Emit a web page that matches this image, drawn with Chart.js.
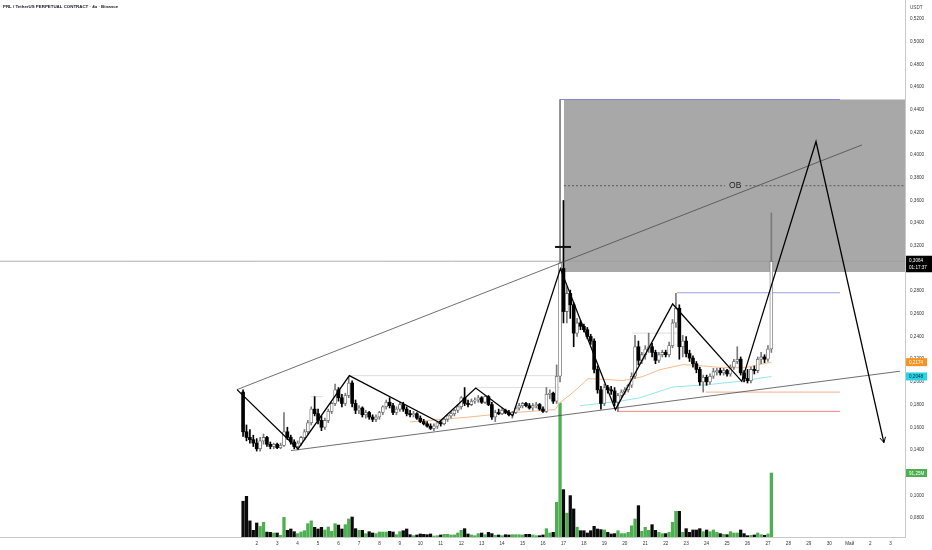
<!DOCTYPE html>
<html>
<head>
<meta charset="utf-8">
<script src="https://cdn.jsdelivr.net/npm/chart.js@4.4.1/dist/chart.umd.min.js"></script>
<style>
html,body{margin:0;padding:0;background:#fff;}
#wrap{width:932px;height:550px;position:relative;}
</style>
</head>
<body>
<div id="wrap"><canvas id="c"></canvas></div>
<script>
// ---------------- DATA ----------------
const title = 'PRL / TetherUS PERPETUAL CONTRACT · 4ч · Binance';
const quoteCurrency = 'USDT';
const firstTime = 1 + 2 / 6;   // 1 April, 08:00 (x unit = days)
const candlesPerDay = 6;       // 4h candles

const opens = [
.191,.156,.151,.149,.146,.141,.148,.151,.145,.143,
.145,.142,.144,.156,.151,.147,.143,.146,.151,.156,
.164,.176,.172,.166,.160,.166,.174,.181,.193,.186,
.181,.188,.199,.181,.175,.177,.171,.173,.169,.167,
.169,.173,.178,.182,.179,.173,.176,.180,.176,.172,
.171,.172,.168,.165,.163,.161,.159,.161,.164,.163,
.167,.170,.172,.175,.178,.186,.181,.180,.183,.184,
.186,.182,.187,.180,.169,.173,.172,.175,.173,.171,
.173,.177,.179,.181,.179,.177,.179,.180,.176,.174,
.189,.190,.183,.205,.300,.262,.278,.268,.243,.252,
.249,.246,.240,.236,.211,.193,.181,.195,.193,.192,
.182,.188,.191,.193,.197,.205,.231,.219,.224,.229,
.231,.226,.219,.224,.226,.224,.232,.252,.265,.231,
.236,.225,.221,.216,.211,.200,.204,.200,.205,.209,
.210,.208,.210,.207,.213,.218,.220,.208,.203,.201,
.211,.210,.220,.222,.220,.229];
const highs = [
.193,.162,.158,.153,.150,.151,.154,.152,.147,.146,
.146,.146,.173,.160,.153,.149,.148,.152,.158,.166,
.178,.187,.176,.170,.168,.176,.182,.198,.195,.189,
.190,.204,.201,.184,.179,.178,.175,.174,.171,.171,
.174,.179,.184,.186,.181,.178,.182,.182,.178,.175,
.174,.173,.170,.167,.165,.163,.163,.165,.166,.168,
.171,.174,.176,.180,.187,.195,.184,.185,.186,.188,
.187,.188,.188,.182,.175,.176,.177,.176,.175,.174,
.178,.181,.182,.182,.181,.181,.182,.181,.178,.195,
.193,.191,.215,.449,.360,.284,.281,.270,.256,.254,
.251,.248,.242,.238,.214,.196,.198,.197,.196,.195,
.190,.193,.195,.198,.208,.241,.236,.226,.232,.243,
.234,.228,.226,.228,.228,.235,.255,.278,.268,.241,
.240,.228,.223,.218,.213,.206,.206,.207,.212,.212,
.212,.212,.211,.215,.220,.231,.222,.210,.211,.213,
.214,.222,.226,.224,.232,.349];
const lows = [
.152,.148,.146,.143,.139,.139,.145,.143,.141,.141,
.141,.141,.143,.149,.145,.141,.140,.144,.149,.154,
.162,.170,.163,.157,.158,.164,.172,.179,.183,.178,
.179,.186,.178,.172,.172,.169,.168,.167,.165,.165,
.167,.171,.176,.177,.171,.171,.174,.174,.170,.169,
.169,.167,.164,.162,.160,.158,.157,.159,.161,.162,
.165,.168,.170,.173,.176,.179,.178,.179,.181,.182,
.181,.181,.179,.167,.165,.171,.171,.172,.170,.168,
.172,.175,.177,.178,.176,.175,.177,.175,.173,.173,
.185,.181,.181,.200,.252,.252,.256,.231,.240,.246,
.244,.238,.233,.208,.190,.176,.179,.190,.189,.179,
.174,.186,.189,.191,.195,.203,.215,.216,.220,.226,
.222,.216,.217,.222,.222,.222,.230,.248,.220,.222,
.222,.218,.213,.208,.197,.191,.197,.198,.203,.206,
.206,.206,.205,.205,.211,.216,.206,.200,.199,.199,
.207,.208,.216,.217,.218,.226];
const closes = [
.156,.151,.149,.146,.141,.148,.151,.145,.143,.145,
.142,.144,.156,.151,.147,.143,.146,.151,.156,.164,
.176,.172,.166,.160,.166,.174,.181,.193,.186,.181,
.188,.199,.181,.175,.177,.171,.173,.169,.167,.169,
.173,.178,.182,.179,.173,.176,.180,.176,.172,.171,
.172,.168,.165,.163,.161,.159,.161,.164,.163,.167,
.170,.172,.175,.178,.186,.181,.180,.183,.184,.186,
.182,.187,.180,.169,.173,.172,.175,.173,.171,.173,
.177,.179,.181,.179,.177,.179,.180,.176,.174,.189,
.190,.183,.205,.305,.262,.278,.268,.243,.252,.249,
.246,.240,.236,.211,.193,.181,.195,.193,.192,.182,
.188,.191,.193,.197,.205,.231,.219,.224,.229,.231,
.226,.219,.224,.226,.224,.232,.252,.265,.231,.236,
.225,.221,.216,.211,.200,.204,.200,.205,.209,.210,
.208,.210,.207,.213,.218,.220,.208,.203,.201,.211,
.210,.220,.222,.220,.229,.3064];
// volume, millions
const volumes = [
51,58,23,9.5,20,15,21,7,6.6,5.7,
5.7,2.4,28,9.5,11.4,7.6,4.8,7.1,9,19,
23,13.8,11.4,13.8,10,14.3,8.1,19,17,11.4,
17.6,25.7,28.5,11.9,9.5,9.5,4.8,7.6,5.7,4.8,
7.1,7.1,7.1,8.1,7.1,3.3,7.6,9,11.4,3.3,
1.9,2.9,4.3,3.8,3.3,4.3,1.4,1.9,2.9,3.8,
3.8,2.9,2.9,5.7,9.5,11.9,4.3,2.9,1.9,4.8,
5.7,3.3,6.7,4.8,2.4,2.9,1.9,3.3,2.9,3.3,
3.3,3.3,2.9,3.8,3.8,2.9,1.9,1.9,2.9,11.9,
5.7,6.7,49.5,191,67.5,34,59,40,14,9,
9,5.7,9,15.2,11.4,10.5,10,6.7,4.3,4.8,
9,4.8,4.8,6.7,16,25.7,44.7,8.1,13.8,9.5,
17.6,9.5,6.7,4.8,4.8,6.7,21,36.6,36.6,6.7,
11.9,6.7,10,10,11.9,7.6,10,7.6,10,6.7,
4.8,3.8,3.3,7.6,5.7,5.7,10,4.8,1.9,2.4,
2.9,5.7,3.3,2.4,4.3,91.25];

const priceTicks = [0.08,0.10,0.12,0.14,0.16,0.18,0.20,0.22,0.24,0.26,0.28,0.30,0.32,0.34,0.36,0.38,0.40,0.42,0.44,0.46,0.48,0.50,0.52];
const dayTicks  = [2,3,4,5,6,7,8,9,10,11,12,13,14,15,16,17,18,19,20,21,22,23,24,25,26,27,28,29,30,31,32,33];
const dayLabels = ['2','3','4','5','6','7','8','9','10','11','12','13','14','15','16','17','18','19','20','21','22','23','24','25','26','27','28','29','30','Май','2','3'];

const lastPrice = 0.3064;
const countdown = '01:17:37';
const orangeMAValue = 0.2174;
const cyanMAValue = 0.2048;
const lastVolumeLabel = '91,25M';

// indicator lines (time in days, price)
const orangeMA = [[9.50,0.1647],[12.09,0.1685],[14.53,0.1729],[16.59,0.1755],[16.83,0.1817],[17.42,0.1900],[18.20,0.2028],[19.17,0.2020],[19.90,0.2011],[20.86,0.2046],[21.72,0.2108],[22.84,0.2152],[23.68,0.2143],[24.81,0.2125],[25.86,0.2125],[27.17,0.2174]];
const cyanMA = [[17.81,0.1790],[19.77,0.1830],[20.74,0.1860],[22.35,0.1955],[24.02,0.1975],[25.63,0.2005],[27.17,0.2048]];

// drawings (time in days, price)
const zigzag = [[1.037,0.1932],[4.02,0.1409],[6.53,0.2055],[10.91,0.1644],[12.71,0.1946],[14.52,0.1702],[16.85,0.2999],[19.54,0.1755],[22.34,0.2687],[25.72,0.2005],[29.35,0.4119],[32.67,0.1465]];
const wedgeUpper = [[1.037,0.1932],[31.60,0.4090]];
const wedgeLower = [[3.677,0.1394],[33.45,0.2094]];
const obZone = {from:17.027, to:33.75, top:0.449, bottom:0.297};
const obMid = 0.373;
const obLabel = 'OB';
const obLabelTime = 25.40;
const blueTop = [[16.83,0.449],[30.52,0.449]];
const blueMid = [[22.55,0.2786],[30.52,0.2786]];
const redLow = [[19.62,0.174],[30.52,0.174]];
const orangeLow = [[23.97,0.191],[30.52,0.191]];
const blackMark = [[16.59,0.319],[17.37,0.319]];
const faintLevels = [
  [[6.51,0.2055],[16.83,0.2055]],
  [[12.72,0.195],[16.83,0.195]],
  [[4.66,0.187],[5.24,0.187]],
  [[20.35,0.243],[22.55,0.243]]
];

// ---------------- CHART ----------------
const times = opens.map((_, i) => firstTime + i / candlesPerDay);
const isUp = i => closes[i] >= opens[i];
const pts = arr => arr.map(p => ({x: p[0], y: p[1]}));
const X_MIN = -10.553, X_MAX = 33.702;
const Y_MIN = 0.0632, Y_MAX = 0.5368;

function lineDs(data, color, width, order, dash) {
  return {type:'line', data: pts(data), borderColor: color, borderWidth: width, pointRadius: 0,
    fill: false, tension: 0, order: order, borderDash: dash || [], yAxisID: 'y', xAxisID: 'x'};
}

const datasets = [];
// OB zone fill
datasets.push({type:'line', data: pts([[obZone.from, obZone.top],[obZone.to, obZone.top]]),
  fill: {value: obZone.bottom}, backgroundColor: '#a8a8a8', borderWidth: 0, pointRadius: 0,
  order: 100, yAxisID: 'y'});
// volumes
datasets.push({type:'bar', data: volumes.map((v,i)=>({x: times[i], y: v})), yAxisID: 'yv',
  backgroundColor: c => isUp(c.dataIndex) ? '#4caf50' : '#0b0b0b', barThickness: 2.6, grouped: false,
  borderWidth: 0, order: 90});
// indicators
datasets.push(lineDs(orangeMA, '#f7b27c', 0.9, 80));
datasets.push(lineDs(cyanMA, '#86e4ee', 0.9, 80));
// faint levels and ranges
faintLevels.forEach(l => datasets.push(lineDs(l, '#d4d4d4', 0.8, 75)));
datasets.push(lineDs(redLow, '#f0656a', 0.8, 74));
datasets.push(lineDs(orangeLow, '#ea9a72', 0.8, 74));
datasets.push(lineDs(blueMid, '#7d86d6', 0.8, 74));
datasets.push(lineDs(blueTop, '#7d86d6', 1, 74));
// OB dashed mid line (split round the label)
datasets.push(lineDs([[obZone.from, obMid],[24.90, obMid]], '#444', 0.8, 73, [2,2]));
datasets.push(lineDs([[25.90, obMid],[obZone.to, obMid]], '#444', 0.8, 73, [2,2]));
// last price line
datasets.push(lineDs([[X_MIN, lastPrice],[X_MAX, lastPrice]], '#9a9a9a', 0.8, 72));
// candle wicks
datasets.push({type:'bar', data: times.map((t,i)=>({x: t, y: [lows[i], highs[i]]})), yAxisID: 'y',
  backgroundColor: c => isUp(c.dataIndex) ? '#7a7a7a' : '#000', barThickness: 1, grouped: false,
  borderWidth: 0, order: 60});
// candle bodies
datasets.push({type:'bar', data: times.map((t,i)=>({x: t, y: [opens[i], closes[i]]})), yAxisID: 'y',
  backgroundColor: c => isUp(c.dataIndex) ? '#ffffff' : '#000',
  borderColor: c => isUp(c.dataIndex) ? '#6a6a6a' : '#000',
  borderWidth: c => isUp(c.dataIndex) ? 0.8 : 0, borderSkipped: false,
  barThickness: 3, grouped: false, minBarLength: 1, order: 50});
// wedge
datasets.push(lineDs(wedgeUpper, '#4a4a4a', 0.8, 40));
datasets.push(lineDs(wedgeLower, '#4a4a4a', 0.8, 40));
datasets.push(lineDs(blackMark, '#111', 2, 35));
// zigzag
datasets.push(lineDs(zigzag, '#000', 1.3, 30));

const fmt = v => v.toFixed(4).replace('.', ',');

const overlay = {
  id: 'overlay',
  afterDatasetsDraw(chart) {
    const {ctx, scales:{x, y}} = chart;
    const n = zigzag.length;
    const x1 = x.getPixelForValue(zigzag[n-2][0]), y1 = y.getPixelForValue(zigzag[n-2][1]);
    const x2 = x.getPixelForValue(zigzag[n-1][0]), y2 = y.getPixelForValue(zigzag[n-1][1]);
    const a = Math.atan2(y2 - y1, x2 - x1);
    ctx.save();
    ctx.strokeStyle = '#000'; ctx.lineWidth = 1;
    ctx.beginPath();
    ctx.moveTo(x2 - 6*Math.cos(a - 0.5), y2 - 6*Math.sin(a - 0.5));
    ctx.lineTo(x2, y2);
    ctx.lineTo(x2 - 6*Math.cos(a + 0.5), y2 - 6*Math.sin(a + 0.5));
    ctx.stroke();
    ctx.font = '8.5px "Liberation Sans", Arial, sans-serif';
    ctx.fillStyle = '#222'; ctx.textAlign = 'center'; ctx.textBaseline = 'middle';
    ctx.fillText(obLabel, x.getPixelForValue(obLabelTime), y.getPixelForValue(obMid));
    ctx.restore();
  },
  afterDraw(chart) {
    const {ctx, scales:{y, yv}} = chart;
    const ax = chart.chartArea.right + 1;
    ctx.save();
    ctx.font = '600 4.4px "Liberation Sans", Arial, sans-serif';
    ctx.fillStyle = '#131722'; ctx.textAlign = 'left'; ctx.textBaseline = 'middle';
    ctx.fillText(title, 3, 7);
    ctx.font = '4.6px "Liberation Sans", Arial, sans-serif';
    ctx.fillStyle = '#444';
    ctx.fillText(quoteCurrency, ax + 4, 8);
    function tag(py, text, bg, fg, w) {
      ctx.fillStyle = bg; ctx.fillRect(ax, py - 4, w, 8);
      ctx.fillStyle = fg; ctx.font = '4.6px "Liberation Sans", Arial, sans-serif';
      ctx.textAlign = 'left'; ctx.textBaseline = 'middle';
      ctx.fillText(text, ax + 3, py + 0.3);
    }
    // last price with countdown
    const lp = y.getPixelForValue(lastPrice);
    ctx.fillStyle = '#000'; ctx.fillRect(ax, lp - 5.5, 932 - ax, 16.5);
    ctx.fillStyle = '#fff'; ctx.font = '4.6px "Liberation Sans", Arial, sans-serif';
    ctx.textAlign = 'left'; ctx.textBaseline = 'middle';
    ctx.fillText(fmt(lastPrice), ax + 3, lp - 0.5);
    ctx.fillText(countdown, ax + 3, lp + 6.5);
    tag(y.getPixelForValue(orangeMAValue), fmt(orangeMAValue), '#f7931e', '#fff', 21);
    tag(y.getPixelForValue(cyanMAValue), fmt(cyanMAValue), '#26d4e6', '#0d2a30', 21);
    tag(yv.getPixelForValue(volumes[volumes.length-1]), lastVolumeLabel, '#4caf50', '#fff', 21);
    ctx.restore();
  }
};

new Chart(document.getElementById('c'), {
  type: 'bar',
  data: {datasets},
  options: {
    responsive: true, maintainAspectRatio: false, devicePixelRatio: 1, animation: false,
    layout: {padding: 0},
    plugins: {legend: {display: false}, tooltip: {enabled: false}},
    scales: {
      x: {
        type: 'linear', min: X_MIN, max: X_MAX, offset: false, position: 'bottom',
        grid: {display: false, drawTicks: false},
        border: {display: true, color: '#c9c9c9', width: 1},
        afterBuildTicks: s => { s.ticks = dayTicks.map(v => ({value: v})); },
        afterFit: s => { s.height = 13; s.paddingLeft = 0; s.paddingRight = 0; },
        ticks: {autoSkip: false, maxRotation: 0, padding: 4, color: '#333',
          font: {size: 4.6, family: '"Liberation Sans", Arial, sans-serif'},
          callback: v => { const k = dayTicks.indexOf(v); return k >= 0 ? dayLabels[k] : ''; }}
      },
      y: {
        type: 'linear', position: 'right', min: Y_MIN, max: Y_MAX,
        grid: {display: false, drawTicks: false},
        border: {display: true, color: '#c9c9c9', width: 1},
        afterBuildTicks: s => { s.ticks = priceTicks.map(v => ({value: v})); },
        afterFit: s => { s.width = 27; s.paddingTop = 0; s.paddingBottom = 0; },
        ticks: {padding: 5, color: '#333', font: {size: 4.6, family: '"Liberation Sans", Arial, sans-serif'},
          callback: v => fmt(v)}
      },
      yv: {type: 'linear', display: false, min: 0, max: 765.6}
    }
  },
  plugins: [overlay]
});
</script>
</body>
</html>
